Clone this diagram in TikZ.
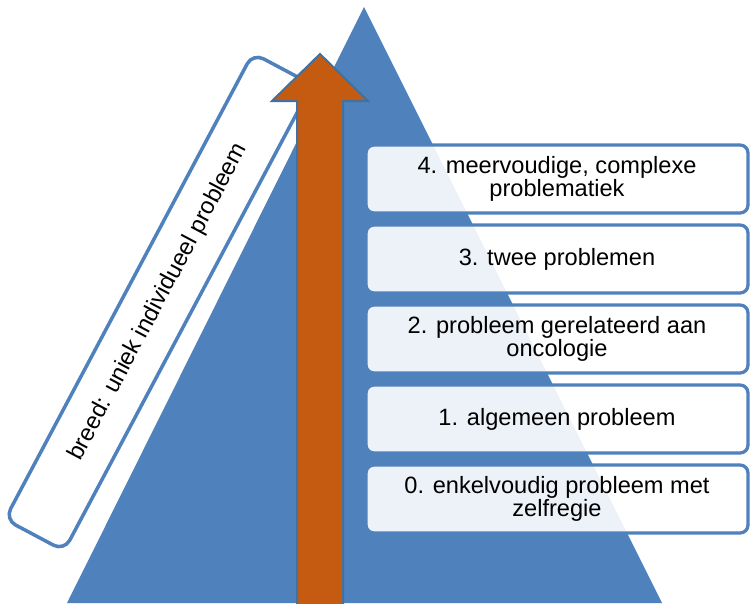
\documentclass[tikz,border=0pt]{standalone}
\usepackage{fontspec}
\setmainfont{Liberation Sans}
\definecolor{triblue}{HTML}{4F81BD}
\definecolor{arrowfill}{HTML}{C55A11}
\definecolor{arrowline}{HTML}{41719C}
\tikzset{
  txt/.style={font=\fontsize{23.6}{23.5}\selectfont},
  levelbox/.style={txt, draw=triblue, line width=3.3pt, rounded corners=8pt,
    fill=white, fill opacity=0.9, text opacity=1, minimum width=382pt,
    minimum height=68pt, align=center, inner sep=0pt},
  broadbox/.style={txt, draw=triblue, line width=3.5pt, rounded corners=12pt,
    fill=white, minimum width=528pt, minimum height=67pt, inner sep=0pt},
  upshape/.style={fill=arrowfill, draw=arrowline, line width=2pt, line join=miter}
}
\begin{document}
\begin{tikzpicture}[x=1pt,y=-1pt]
\useasboundingbox (0,0) rectangle (750,603);
\clip (0,0) rectangle (750,603);
% pyramid
\fill[triblue] (364,7) -- (662,603) -- (67,603) -- cycle;
% rotated label box
\node[broadbox, rotate=62] (broad) at (158.5,302) {breed: uniek individueel probleem};
% arrow
\draw[upshape] (297,612) -- (297,101) -- (272,101) -- (320,54) -- (368,101)
  -- (343,101) -- (343,612) -- cycle;
% levels
\node[levelbox] (l4) at (557,179) {4. meervoudige, complexe\\problematiek};
\node[levelbox] (l3) at (557,259) {3. twee problemen};
\node[levelbox] (l2) at (557,339) {2. probleem gerelateerd aan\\oncologie};
\node[levelbox] (l1) at (557,419) {1. algemeen probleem};
\node[levelbox] (l0) at (557,499) {0. enkelvoudig probleem met\\zelfregie};
\end{tikzpicture}
\end{document}
